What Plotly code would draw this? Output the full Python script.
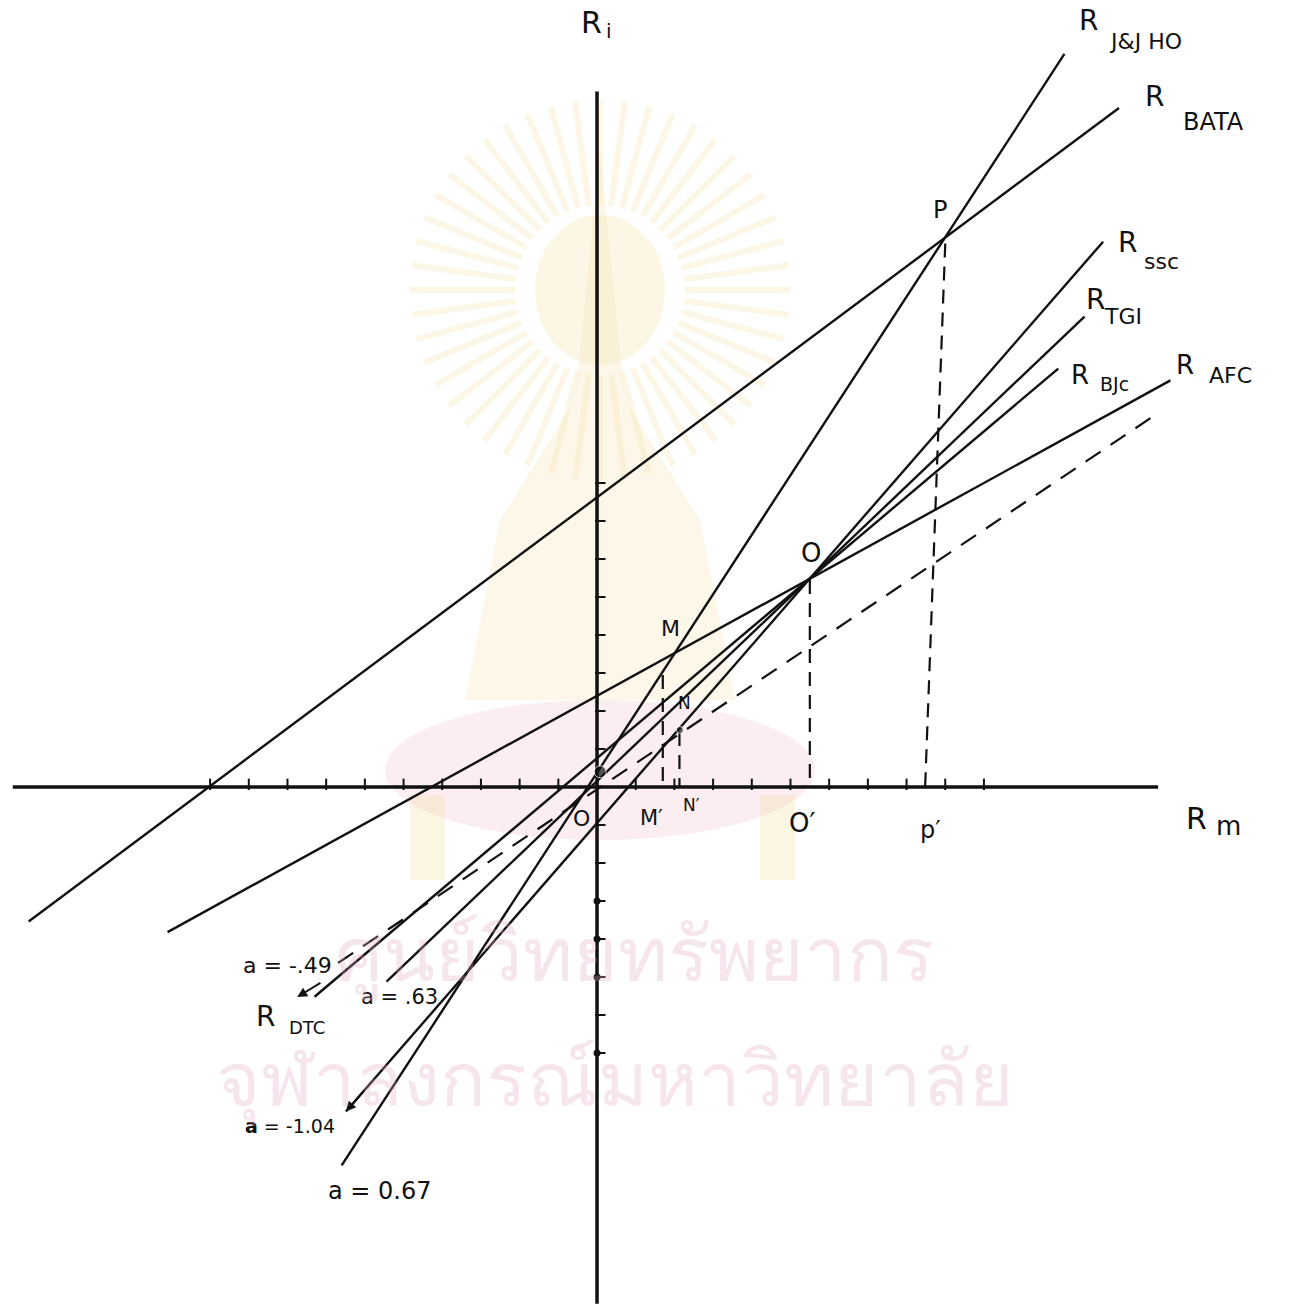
import math
import plotly.graph_objects as go

# ---- characteristic lines R_i = a + b R_m (end points, in tick units of R_m / R_i) ----
line_names = ["J&J HO", "BATA", "SSC", "TGI", "BJC", "AFC"]
line_x0 = [-6.60, -14.69, -6.49, -5.44, -7.30, -11.10]
line_y0 = [-9.96, -3.54, -8.54, -5.12, -5.52, -3.82]
line_x1 = [12.08, 13.49, 13.08, 12.60, 11.92, 14.82]
line_y1 = [19.29, 17.87, 14.35, 12.38, 11.01, 10.70]

# dashed line through the origin
dash_x = [-6.69, 14.31]
dash_y = [-4.63, 9.71]

# projections of the intersection points onto the R_m axis
proj_names = ["M", "N", "O", "P"]
proj_x_top = [1.70, 2.13, 5.50, 9.00]
proj_y_top = [2.95, 1.45, 5.45, 14.30]
proj_x_foot = [1.70, 2.13, 5.50, 8.48]

# axes and their tick marks
x_axis_range = [-15.1, 14.5]
y_axis_range = [-13.6, 18.3]
x_ticks = [-10, -9, -8, -7, -6, -5, -4, -3, -2, -1, 1, 2, 3, 4, 5, 6, 7, 8, 9, 10]
y_ticks = [-7, -6, -5, -4, -3, -2, -1, 1, 2, 3, 4, 5, 6, 7, 8]
y_dots = [-3, -4, -5, -7]

INK = "#111111"
FONT = "DejaVu Sans"
W, H = 1290, 1311

fig = go.Figure()

# axes
fig.add_trace(go.Scatter(x=x_axis_range, y=[0, 0], mode="lines",
                         line=dict(color=INK, width=3.5), hoverinfo="skip"))
fig.add_trace(go.Scatter(x=[0, 0], y=y_axis_range, mode="lines",
                         line=dict(color=INK, width=3.5), hoverinfo="skip"))

tx, ty = [], []
for t in x_ticks:
    tx += [t, t, None]
    ty += [-0.08, 0.22, None]
for t in y_ticks:
    tx += [-0.05, 0.22, None]
    ty += [t, t, None]
fig.add_trace(go.Scatter(x=tx, y=ty, mode="lines",
                         line=dict(color=INK, width=2), hoverinfo="skip"))
fig.add_trace(go.Scatter(x=[0] * len(y_dots), y=y_dots, mode="markers",
                         marker=dict(color=INK, size=7), hoverinfo="skip"))

# characteristic lines
for name, x0, y0, x1, y1 in zip(line_names, line_x0, line_y0, line_x1, line_y1):
    fig.add_trace(go.Scatter(x=[x0, x1], y=[y0, y1], mode="lines", name=name,
                             line=dict(color=INK, width=2.4), hoverinfo="skip"))

fig.add_trace(go.Scatter(x=dash_x, y=dash_y, mode="lines",
                         line=dict(color=INK, width=2.2, dash="18px,12px"),
                         hoverinfo="skip"))

# dashed drop lines
for xt, yt, xf in zip(proj_x_top, proj_y_top, proj_x_foot):
    fig.add_trace(go.Scatter(x=[xt, xf], y=[yt, 0], mode="lines",
                             line=dict(color=INK, width=2.2, dash="14px,9px"),
                             hoverinfo="skip"))

# ink blob at the origin and point N
fig.add_trace(go.Scatter(x=[0.08, 2.14], y=[0.4, 1.5], mode="markers",
                         marker=dict(color=INK, size=[12, 7]), hoverinfo="skip"))


def label(x, y, text, size, anchor="center"):
    fig.add_annotation(x=x, y=y, text=text, showarrow=False, xanchor=anchor,
                       font=dict(family=FONT, size=size, color=INK))


def rlabel(xr, yr, xs, ys, sub, size_r, size_s):
    # an "R" followed by its subscript
    label(xr, yr, "R", size_r)
    label(xs, ys, sub, size_s, anchor="left")


# axis titles
rlabel(-0.13, 20.13, 0.18, 19.9, "i", 30, 20)
rlabel(15.5, -0.84, 15.94, -1.03, "m", 30, 26)

# line labels
rlabel(12.71, 20.16, 13.18, 19.61, "J&amp;J HO", 28, 22)
rlabel(14.42, 18.16, 15.09, 17.50, "BATA", 28, 24)
rlabel(13.72, 14.32, 14.09, 13.84, "ssc", 28, 22)
rlabel(12.89, 12.82, 13.06, 12.37, "TGI", 28, 22)
rlabel(12.48, 10.84, 12.94, 10.61, "BJc", 26, 19)
rlabel(15.19, 11.11, 15.76, 10.82, "AFC", 26, 22)
rlabel(-8.58, -6.05, -8.00, -6.33, "DTC", 28, 18)

# points
label(8.86, 15.18, "P", 24)
label(5.53, 6.16, "O", 26)
label(1.91, 4.18, "M", 22)
label(2.27, 2.21, "N", 17)
label(1.42, -0.82, "M′", 21)
label(2.45, -0.47, "N′", 17)
label(5.30, -0.95, "O′", 26)
label(8.63, -1.13, "p′", 24)
label(-0.41, -0.82, "O", 22)

# intercept notes
label(-8.01, -4.70, "a = -.49", 22)
label(-5.10, -5.52, "a = .63", 21)
label(-7.93, -8.92, "<b>a</b> = -1.04", 19)
label(-5.61, -10.63, "a = 0.67", 24)

fig.add_annotation(x=-7.75, y=-5.53, ax=-7.11, ay=-5.13, xref="x", yref="y",
                   axref="x", ayref="y", text="", showarrow=True,
                   arrowhead=2, arrowsize=1, arrowwidth=2, arrowcolor=INK)
fig.add_annotation(x=-6.49, y=-8.54, ax=-6.0, ay=-7.97, xref="x", yref="y",
                   axref="x", ayref="y", text="", showarrow=True,
                   arrowhead=2, arrowsize=1, arrowwidth=2, arrowcolor=INK)


# ---- faint library watermark behind the drawing ----
def pp(px, py):
    return px / W, 1 - py / H


shapes = []
cx, cy = 600, 290
for k in range(48):
    ang = 2 * math.pi * k / 48
    x0, y0 = pp(cx + 85 * math.cos(ang), cy + 85 * math.sin(ang))
    x1, y1 = pp(cx + 190 * math.cos(ang), cy + 190 * math.sin(ang))
    shapes.append(dict(type="line", xref="paper", yref="paper", x0=x0, y0=y0,
                       x1=x1, y1=y1, layer="below",
                       line=dict(color="rgba(240,210,130,0.20)", width=6)))
a0, b0 = pp(535, 215)
a1, b1 = pp(665, 365)
shapes.append(dict(type="circle", xref="paper", yref="paper", x0=a0, y0=b0,
                   x1=a1, y1=b1, layer="below", line=dict(width=0),
                   fillcolor="rgba(245,225,165,0.30)"))
poly = [(600, 150), (625, 400), (700, 520), (735, 700), (465, 700), (500, 520), (575, 400)]
path = "M " + " L ".join(f"{pp(px, py)[0]:.4f},{pp(px, py)[1]:.4f}" for px, py in poly) + " Z"
shapes.append(dict(type="path", xref="paper", yref="paper", path=path, layer="below",
                   line=dict(width=0), fillcolor="rgba(242,224,170,0.26)"))
e0, f0 = pp(385, 700)
e1, f1 = pp(815, 840)
shapes.append(dict(type="circle", xref="paper", yref="paper", x0=e0, y0=f0,
                   x1=e1, y1=f1, layer="below", line=dict(width=0),
                   fillcolor="rgba(235,165,180,0.20)"))
for lx in (410, 760):
    g0, h0 = pp(lx, 795)
    g1, h1 = pp(lx + 35, 880)
    shapes.append(dict(type="rect", xref="paper", yref="paper", x0=g0, y0=h0,
                       x1=g1, y1=h1, layer="below", line=dict(width=0),
                       fillcolor="rgba(242,222,165,0.30)"))

fig.add_annotation(xref="paper", yref="paper", x=0.492, y=1 - 1005 / H,
                   text="ศูนย์วิทยทรัพยากร", showarrow=False,
                   font=dict(size=76, color="rgba(226,170,195,0.30)"))
fig.add_annotation(xref="paper", yref="paper", x=0.477, y=1 - 1130 / H,
                   text="จุฬาลงกรณ์มหาวิทยาลัย", showarrow=False,
                   font=dict(size=76, color="rgba(226,170,195,0.30)"))

fig.update_layout(
    width=W, height=H,
    margin=dict(l=0, r=0, t=0, b=0),
    paper_bgcolor="white", plot_bgcolor="white",
    showlegend=False,
    shapes=shapes,
    xaxis=dict(range=[-15.43, 17.91], visible=False, fixedrange=True),
    yaxis=dict(range=[-13.79, 20.71], visible=False, fixedrange=True),
)

fig.write_html("out.html")
